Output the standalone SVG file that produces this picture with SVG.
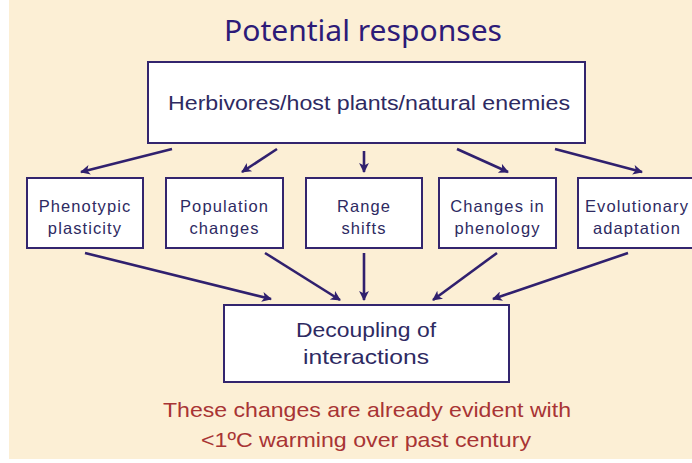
<svg xmlns="http://www.w3.org/2000/svg" width="692" height="463" viewBox="0 0 692 463">
  <style>
    .box { fill: #ffffff; stroke: #33256e; stroke-width: 2; }
    .lbl { font-family: "Liberation Sans", Arial, sans-serif; fill: #2e2a62; text-anchor: middle; }
    .small { font-size: 16.5px; letter-spacing: 1.1px; }
    .big { font-size: 21px; }
    .title { font-family: "Noto Sans", "DejaVu Sans", sans-serif; font-size: 29px; fill: #2d1b78; text-anchor: middle; }
    .note { font-family: "Liberation Sans", Arial, sans-serif; font-size: 21px; fill: #a83434; text-anchor: middle; }
    .arrow { stroke: #30206e; stroke-width: 2.6; fill: none; marker-end: url(#head); }
  </style>
  <defs>
    <marker id="head" viewBox="0 0 10 10" refX="9" refY="5" markerWidth="4.6" markerHeight="3.8" orient="auto" markerUnits="strokeWidth">
      <path d="M0,0 L10,5 L0,10 L2.5,5 Z" fill="#30206e"/>
    </marker>
  </defs>

  <!-- page background -->
  <rect x="0" y="0" width="692" height="463" fill="#ffffff"/>
  <rect x="9" y="0" width="683" height="459" fill="#fcefd5"/>

  <text class="title" x="363" y="41" textLength="278" lengthAdjust="spacingAndGlyphs">Potential responses</text>

  <g id="source">
    <rect class="box" x="148" y="62" width="437" height="81"/>
    <text class="lbl" x="369" y="110" font-size="20.5" textLength="402" lengthAdjust="spacingAndGlyphs">Herbivores/host plants/natural enemies</text>
  </g>

  <g id="plasticity">
    <rect class="box" x="27" y="178" width="116" height="70"/>
    <text class="lbl small" x="85" y="212">Phenotypic</text>
    <text class="lbl small" x="85" y="234">plasticity</text>
  </g>

  <g id="population">
    <rect class="box" x="166" y="178" width="117" height="70"/>
    <text class="lbl small" x="224.5" y="212">Population</text>
    <text class="lbl small" x="224.5" y="234">changes</text>
  </g>

  <g id="range">
    <rect class="box" x="306" y="178" width="116" height="70"/>
    <text class="lbl small" x="364" y="212">Range</text>
    <text class="lbl small" x="364" y="234">shifts</text>
  </g>

  <g id="phenology">
    <rect class="box" x="439" y="178" width="117" height="70"/>
    <text class="lbl small" x="497.5" y="212">Changes in</text>
    <text class="lbl small" x="497.5" y="234">phenology</text>
  </g>

  <g id="evolution">
    <rect class="box" x="578" y="178" width="118" height="70"/>
    <text class="lbl small" x="637" y="212">Evolutionary</text>
    <text class="lbl small" x="637" y="234">adaptation</text>
  </g>

  <g id="decoupling">
    <rect class="box" x="224" y="305" width="285" height="77"/>
    <text class="lbl big" x="366" y="337" textLength="140" lengthAdjust="spacingAndGlyphs">Decoupling of</text>
    <text class="lbl big" x="366" y="364" textLength="126" lengthAdjust="spacingAndGlyphs">interactions</text>
  </g>

  <g id="connectors">
    <line class="arrow" x1="172" y1="149" x2="81" y2="172"/>
    <line class="arrow" x1="277" y1="149" x2="242" y2="172"/>
    <line class="arrow" x1="364" y1="151" x2="364" y2="172"/>
    <line class="arrow" x1="457" y1="149" x2="508" y2="172"/>
    <line class="arrow" x1="555" y1="149" x2="642" y2="172"/>

    <line class="arrow" x1="85" y1="253" x2="271" y2="299"/>
    <line class="arrow" x1="265" y1="253" x2="340" y2="300"/>
    <line class="arrow" x1="364" y1="253" x2="364" y2="300"/>
    <line class="arrow" x1="497" y1="253" x2="433" y2="300"/>
    <line class="arrow" x1="628" y1="253" x2="493" y2="299"/>
  </g>

  <text class="note" x="367" y="417" textLength="408" lengthAdjust="spacingAndGlyphs">These changes are already evident with</text>
  <text class="note" x="366" y="447" textLength="330" lengthAdjust="spacingAndGlyphs">&lt;1ºC warming over past century</text>
</svg>
